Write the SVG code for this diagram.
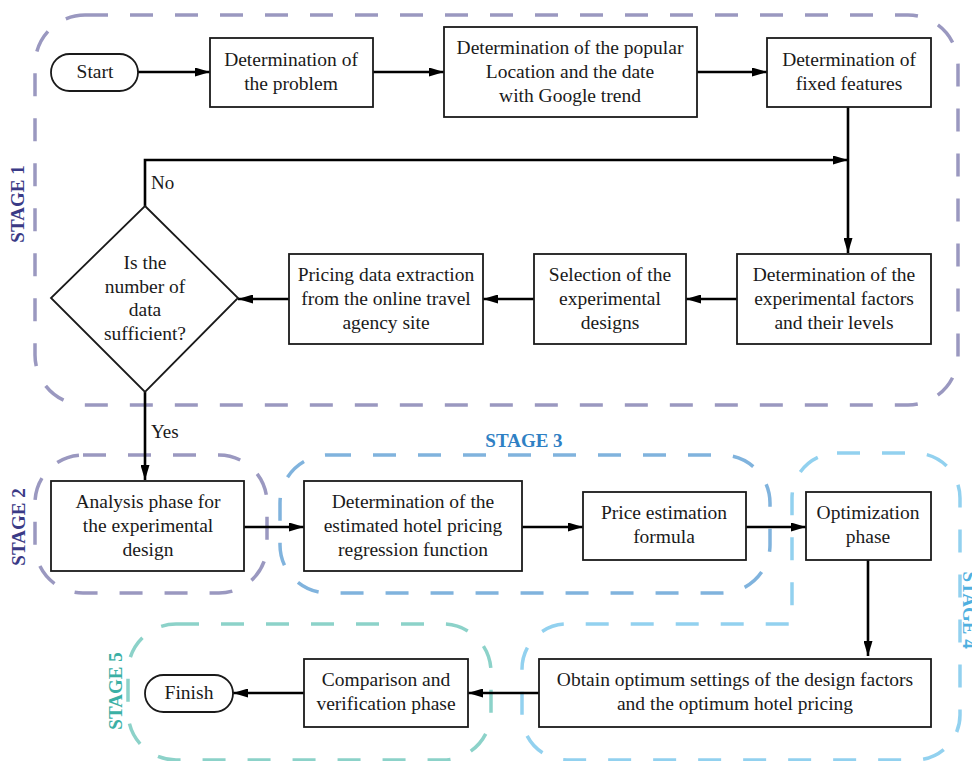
<svg xmlns="http://www.w3.org/2000/svg" width="972" height="761" viewBox="0 0 972 761">
<style>
.box{fill:#fff;stroke:#1a1a1a;stroke-width:1.8}
.t{font-family:"Liberation Serif","Tinos","Times New Roman","DejaVu Serif",serif;font-size:19.5px;fill:#1a1a1a;text-anchor:middle}
.lbl{font-family:"Liberation Serif","Tinos","Times New Roman","DejaVu Serif",serif;font-size:19px;fill:#1a1a1a}
.stg{font-family:"Liberation Serif","Tinos","Times New Roman","DejaVu Serif",serif;font-size:19px;font-weight:bold;text-anchor:middle}
.bd{fill:none;stroke-width:3.5;stroke-dasharray:23 22}
.c{fill:none;stroke:#000;stroke-width:2.6}
</style>
<defs>
<marker id="ah" markerUnits="userSpaceOnUse" markerWidth="15" markerHeight="9" refX="15" refY="4.5" orient="auto">
<path d="M0,0 L15,4.5 L0,9 z" fill="#000"/>
</marker>
</defs>
<rect width="972" height="761" fill="#fff"/>

<g id="stage-boundaries">
<rect id="stage1" class="bd" x="35" y="15" width="923" height="390" rx="50" stroke="#9a98c0"/>
<rect id="stage2" class="bd" x="35" y="455" width="232" height="138" rx="48" stroke="#9a98c0"/>
<rect id="stage3" class="bd" x="280" y="455" width="490" height="138" rx="48" stroke="#80b3dd"/>
<path id="stage4" class="bd" d="M837,453 L915,453 A45,45 0 0 1 960,498 L960,715 A45,45 0 0 1 915,760 L567,760 A45,45 0 0 1 522,715 L522,669 A45,45 0 0 1 567,624 L792,624 L792,498 A45,45 0 0 1 837,453 Z" stroke="#92d1ef"/>
<rect id="stage5" class="bd" x="128" y="624" width="363" height="136" rx="48" stroke="#8cd2c9"/>
</g>

<g id="stage-labels">
<text class="stg" fill="#3a3a86" transform="translate(24,204) rotate(-90)">STAGE 1</text>
<text class="stg" fill="#3a3a86" transform="translate(25,527) rotate(-90)">STAGE 2</text>
<text class="stg" fill="#2f80c4" x="524" y="447">STAGE 3</text>
<text class="stg" fill="#4fb0e0" transform="translate(963,610) rotate(90)">STAGE 4</text>
<text class="stg" fill="#3bb0a5" transform="translate(122,691) rotate(-90)">STAGE 5</text>
</g>

<g id="connectors">
<line class="c" x1="138" y1="72" x2="210" y2="72" marker-end="url(#ah)"/>
<line class="c" x1="373" y1="72" x2="444" y2="72" marker-end="url(#ah)"/>
<line class="c" x1="697" y1="72" x2="767" y2="72" marker-end="url(#ah)"/>
<line class="c" x1="848" y1="107" x2="848" y2="253" marker-end="url(#ah)"/>
<polyline class="c" points="145,206 145,160 848,160" marker-end="url(#ah)"/>
<line class="c" x1="737" y1="299" x2="686" y2="299" marker-end="url(#ah)"/>
<line class="c" x1="534" y1="299" x2="483" y2="299" marker-end="url(#ah)"/>
<line class="c" x1="289" y1="299" x2="238" y2="299" marker-end="url(#ah)"/>
<line class="c" x1="145" y1="392" x2="145" y2="480" marker-end="url(#ah)"/>
<line class="c" x1="244" y1="527" x2="304" y2="527" marker-end="url(#ah)"/>
<line class="c" x1="522" y1="527" x2="583" y2="527" marker-end="url(#ah)"/>
<line class="c" x1="746" y1="527" x2="806" y2="527" marker-end="url(#ah)"/>
<line class="c" x1="868" y1="560" x2="868" y2="656" marker-end="url(#ah)"/>
<line class="c" x1="539" y1="693" x2="468" y2="693" marker-end="url(#ah)"/>
<line class="c" x1="304" y1="693" x2="233" y2="693" marker-end="url(#ah)"/>
<text class="lbl" x="151" y="189">No</text>
<text class="lbl" x="151" y="438">Yes</text>
</g>

<g id="start">
<rect class="box" x="51" y="54" width="87" height="37" rx="18.5"/>
<text class="t" x="95" y="78">Start</text>
</g>
<g id="problem">
<rect class="box" x="210" y="38" width="163" height="69"/>
<text class="t" x="291" y="66">Determination of</text>
<text class="t" x="291" y="90">the problem</text>
</g>
<g id="popular-location">
<rect class="box" x="444" y="27" width="253" height="90"/>
<text class="t" x="570" y="54">Determination of the popular</text>
<text class="t" x="570" y="78">Location and the date</text>
<text class="t" x="570" y="102">with Google trend</text>
</g>
<g id="fixed-features">
<rect class="box" x="767" y="38" width="164" height="69"/>
<text class="t" x="849" y="66">Determination of</text>
<text class="t" x="849" y="90">fixed features</text>
</g>
<g id="factors">
<rect class="box" x="737" y="254" width="194" height="90"/>
<text class="t" x="834" y="281">Determination of the</text>
<text class="t" x="834" y="305">experimental factors</text>
<text class="t" x="834" y="329">and their levels</text>
</g>
<g id="selection">
<rect class="box" x="534" y="254" width="152" height="90"/>
<text class="t" x="610" y="281">Selection of the</text>
<text class="t" x="610" y="305">experimental</text>
<text class="t" x="610" y="329">designs</text>
</g>
<g id="pricing-extraction">
<rect class="box" x="289" y="254" width="194" height="90"/>
<text class="t" x="386" y="281">Pricing data extraction</text>
<text class="t" x="386" y="305">from the online travel</text>
<text class="t" x="386" y="329">agency site</text>
</g>
<g id="decision">
<polygon class="box" points="145,206 238,298 145,392 51,298"/>
<text class="t" x="145" y="269">Is the</text>
<text class="t" x="145" y="293">number of</text>
<text class="t" x="145" y="316">data</text>
<text class="t" x="145" y="340">sufficient?</text>
</g>
<g id="analysis">
<rect class="box" x="51" y="481" width="193" height="90"/>
<text class="t" x="148" y="508">Analysis phase for</text>
<text class="t" x="148" y="532">the experimental</text>
<text class="t" x="148" y="556">design</text>
</g>
<g id="regression">
<rect class="box" x="304" y="481" width="218" height="90"/>
<text class="t" x="413" y="508">Determination of the</text>
<text class="t" x="413" y="532">estimated hotel pricing</text>
<text class="t" x="413" y="556">regression function</text>
</g>
<g id="price-formula">
<rect class="box" x="583" y="492" width="163" height="68"/>
<text class="t" x="664" y="519">Price estimation</text>
<text class="t" x="664" y="543">formula</text>
</g>
<g id="optimization">
<rect class="box" x="806" y="492" width="125" height="68"/>
<text class="t" x="868" y="519">Optimization</text>
<text class="t" x="868" y="543">phase</text>
</g>
<g id="optimum-settings">
<rect class="box" x="539" y="659" width="392" height="68"/>
<text class="t" x="735" y="686">Obtain optimum settings of the design factors</text>
<text class="t" x="735" y="710">and the optimum hotel pricing</text>
</g>
<g id="comparison">
<rect class="box" x="304" y="659" width="164" height="68"/>
<text class="t" x="386" y="686">Comparison and</text>
<text class="t" x="386" y="710">verification phase</text>
</g>
<g id="finish">
<rect class="box" x="145" y="675" width="88" height="37" rx="18.5"/>
<text class="t" x="189" y="699">Finish</text>
</g>
</svg>
